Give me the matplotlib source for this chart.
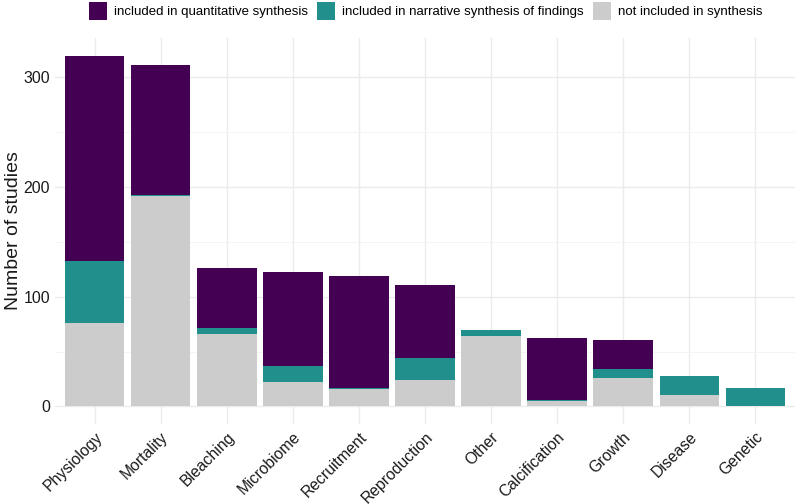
import matplotlib
matplotlib.use("Agg")
import matplotlib.pyplot as plt
import numpy as np
from matplotlib.patches import Patch

categories = ["Physiology", "Mortality", "Bleaching", "Microbiome", "Recruitment",
              "Reproduction", "Other", "Calcification", "Growth", "Disease", "Genetic"]
not_included = [76, 192, 66, 22, 16, 24, 64, 5, 26, 10, 0]
narrative = [57, 1, 6, 15, 1, 20, 6, 1, 8, 18, 17]
quantitative = [187, 118, 54, 86, 102, 67, 0, 56, 27, 0, 0]

labels = ["included in quantitative synthesis",
          "included in narrative synthesis of findings",
          "not included in synthesis"]
colors = ["#440154", "#21908C", "#CCCCCC"]

plt.rcParams['font.family'] = ['Liberation Sans', 'DejaVu Sans']
fig = plt.figure(figsize=(7.97, 5.04), dpi=100)
ax = fig.add_axes([55/797, 1-424/504, 740/797, (424-38)/504])

x = np.arange(len(categories))
w = 0.9
ni = np.array(not_included); na = np.array(narrative); qu = np.array(quantitative)
ax.bar(x, ni, w, color=colors[2], zorder=3)
ax.bar(x, na, w, bottom=ni, color=colors[1], zorder=3)
ax.bar(x, qu, w, bottom=ni + na, color=colors[0], zorder=3)

total = ni + na + qu
ymax = total.max()
ax.set_ylim(-0.05 * ymax, ymax * 1.05)
ax.set_xlim(-0.6, len(categories) - 0.4)
ax.set_yticks([0, 100, 200, 300])
ax.set_yticks([50, 150, 250], minor=True)
ax.set_xticks(x)
ax.set_xticklabels(categories, rotation=45, ha='right', rotation_mode='anchor', fontsize=11.3, color='#1a1a1a')
ax.tick_params(axis='y', labelsize=11.5, colors='#1a1a1a', length=0)
ax.tick_params(axis='y', which='minor', length=0)
ax.tick_params(axis='x', length=0, pad=4)
ax.grid(True, which='major', color='#EBEBEB', linewidth=1.0, zorder=0)
ax.grid(True, which='minor', axis='y', color='#F3F3F3', linewidth=0.6, zorder=0)
for s in ax.spines.values():
    s.set_visible(False)
ax.set_ylabel("Number of studies", fontsize=14, color='#1a1a1a', labelpad=1)

handles = [Patch(facecolor=c, label=l) for c, l in zip(colors, labels)]
fig.legend(handles=handles, loc='center', bbox_to_anchor=(0.534, 1 - 11/504), ncol=3,
           frameon=False, fontsize=9.5, handlelength=1.4, handleheight=1.8,
           handletextpad=0.5, columnspacing=0.7, borderpad=0)

fig.savefig("out.png", dpi=100, facecolor='white')
